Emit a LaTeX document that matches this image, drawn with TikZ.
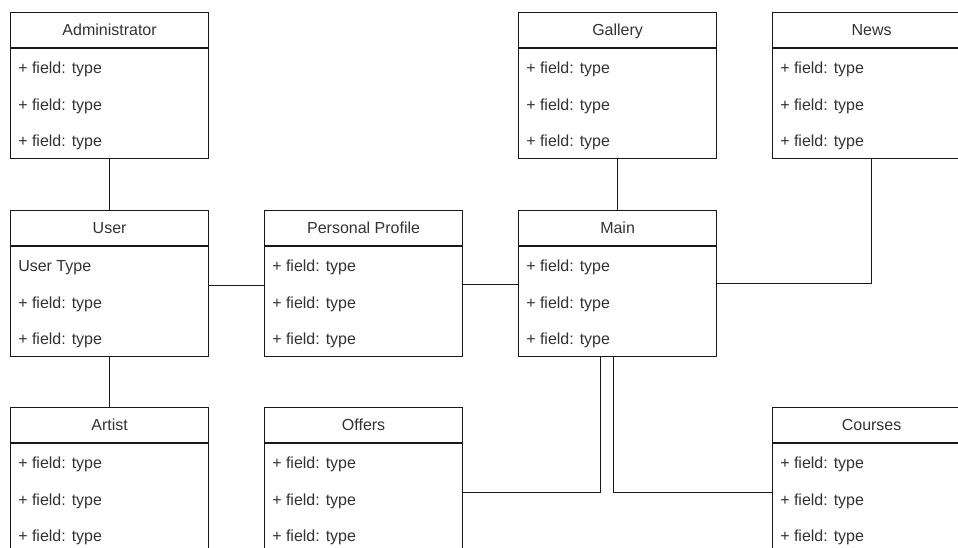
\documentclass[tikz,border=0pt]{standalone}
\usepackage{fontspec}
\setmainfont{Liberation Sans}
\usetikzlibrary{calc}

\definecolor{txt}{HTML}{333333}

% One UML class: name, left x, top y, title, three member rows
\newcommand\umlclass[7]{%
  \node[classbox, anchor=north west] (#1) at (#2,#3) {};
  \draw[frame] ($(#1.north west)+(0,36)$) -- ($(#1.north east)+(0,36)$);
  \node[titletext] (#1-title) at ($(#1.north)+(0,24)$) {#4};
  \node[rowtext] (#1-r1) at ($(#1.north west)+(8,62)$) {#5};
  \node[rowtext] (#1-r2) at ($(#1.north west)+(8,98.5)$) {#6};
  \node[rowtext] (#1-r3) at ($(#1.north west)+(8,135)$) {#7};
}

\begin{document}
\begin{tikzpicture}[x=0.75pt,y=-0.75pt,
  frame/.style={draw=black!90, line width=0.9pt},
  classbox/.style={frame, fill=white, rectangle, inner sep=0pt,
    minimum width=148.5pt, minimum height=109.5pt},
  titletext/.style={inner sep=0pt, anchor=base, text=txt,
    font=\fontsize{12}{14}\selectfont},
  rowtext/.style={inner sep=0pt, anchor=base west, text=txt,
    font=\fontsize{12}{14}\selectfont},
  link/.style={draw=black!90, line width=0.9pt}]

\clip (0,0) rectangle (958,548);
\fill[white] (0,0) rectangle (958,548);

\umlclass{admin}{10}{12}{Administrator}{+ field: type}{+ field: type}{+ field: type}
\umlclass{gallery}{518}{12}{Gallery}{+ field: type}{+ field: type}{+ field: type}
\umlclass{news}{772}{12}{News}{+ field: type}{+ field: type}{+ field: type}

\umlclass{user}{10}{210}{User}{User Type}{+ field: type}{+ field: type}
\umlclass{profile}{264}{210}{Personal Profile}{+ field: type}{+ field: type}{+ field: type}
\umlclass{main}{518}{210}{Main}{+ field: type}{+ field: type}{+ field: type}

\umlclass{artist}{10}{407}{Artist}{+ field: type}{+ field: type}{+ field: type}
\umlclass{offers}{264}{407}{Offers}{+ field: type}{+ field: type}{+ field: type}
\umlclass{courses}{772}{407}{Courses}{+ field: type}{+ field: type}{+ field: type}

% associations
\draw[link] (admin.south) -- (user.north);
\draw[link] (user.south) -- (artist.north);
\draw[link] ($(user.east)+(0,2)$) -- ($(profile.west)+(0,2)$);
\draw[link] ($(profile.east)+(0,1)$) -- ($(main.west)+(0,1)$);
\draw[link] (gallery.south) -- (main.north);
\draw[link] (news.south) |- (main.east);
\draw[link] ($(main.south)+(-17,0)$) |- ($(offers.east)+(0,12)$);
\draw[link] ($(main.south)+(-4,0)$) |- ($(courses.west)+(0,12)$);

\end{tikzpicture}
\end{document}
